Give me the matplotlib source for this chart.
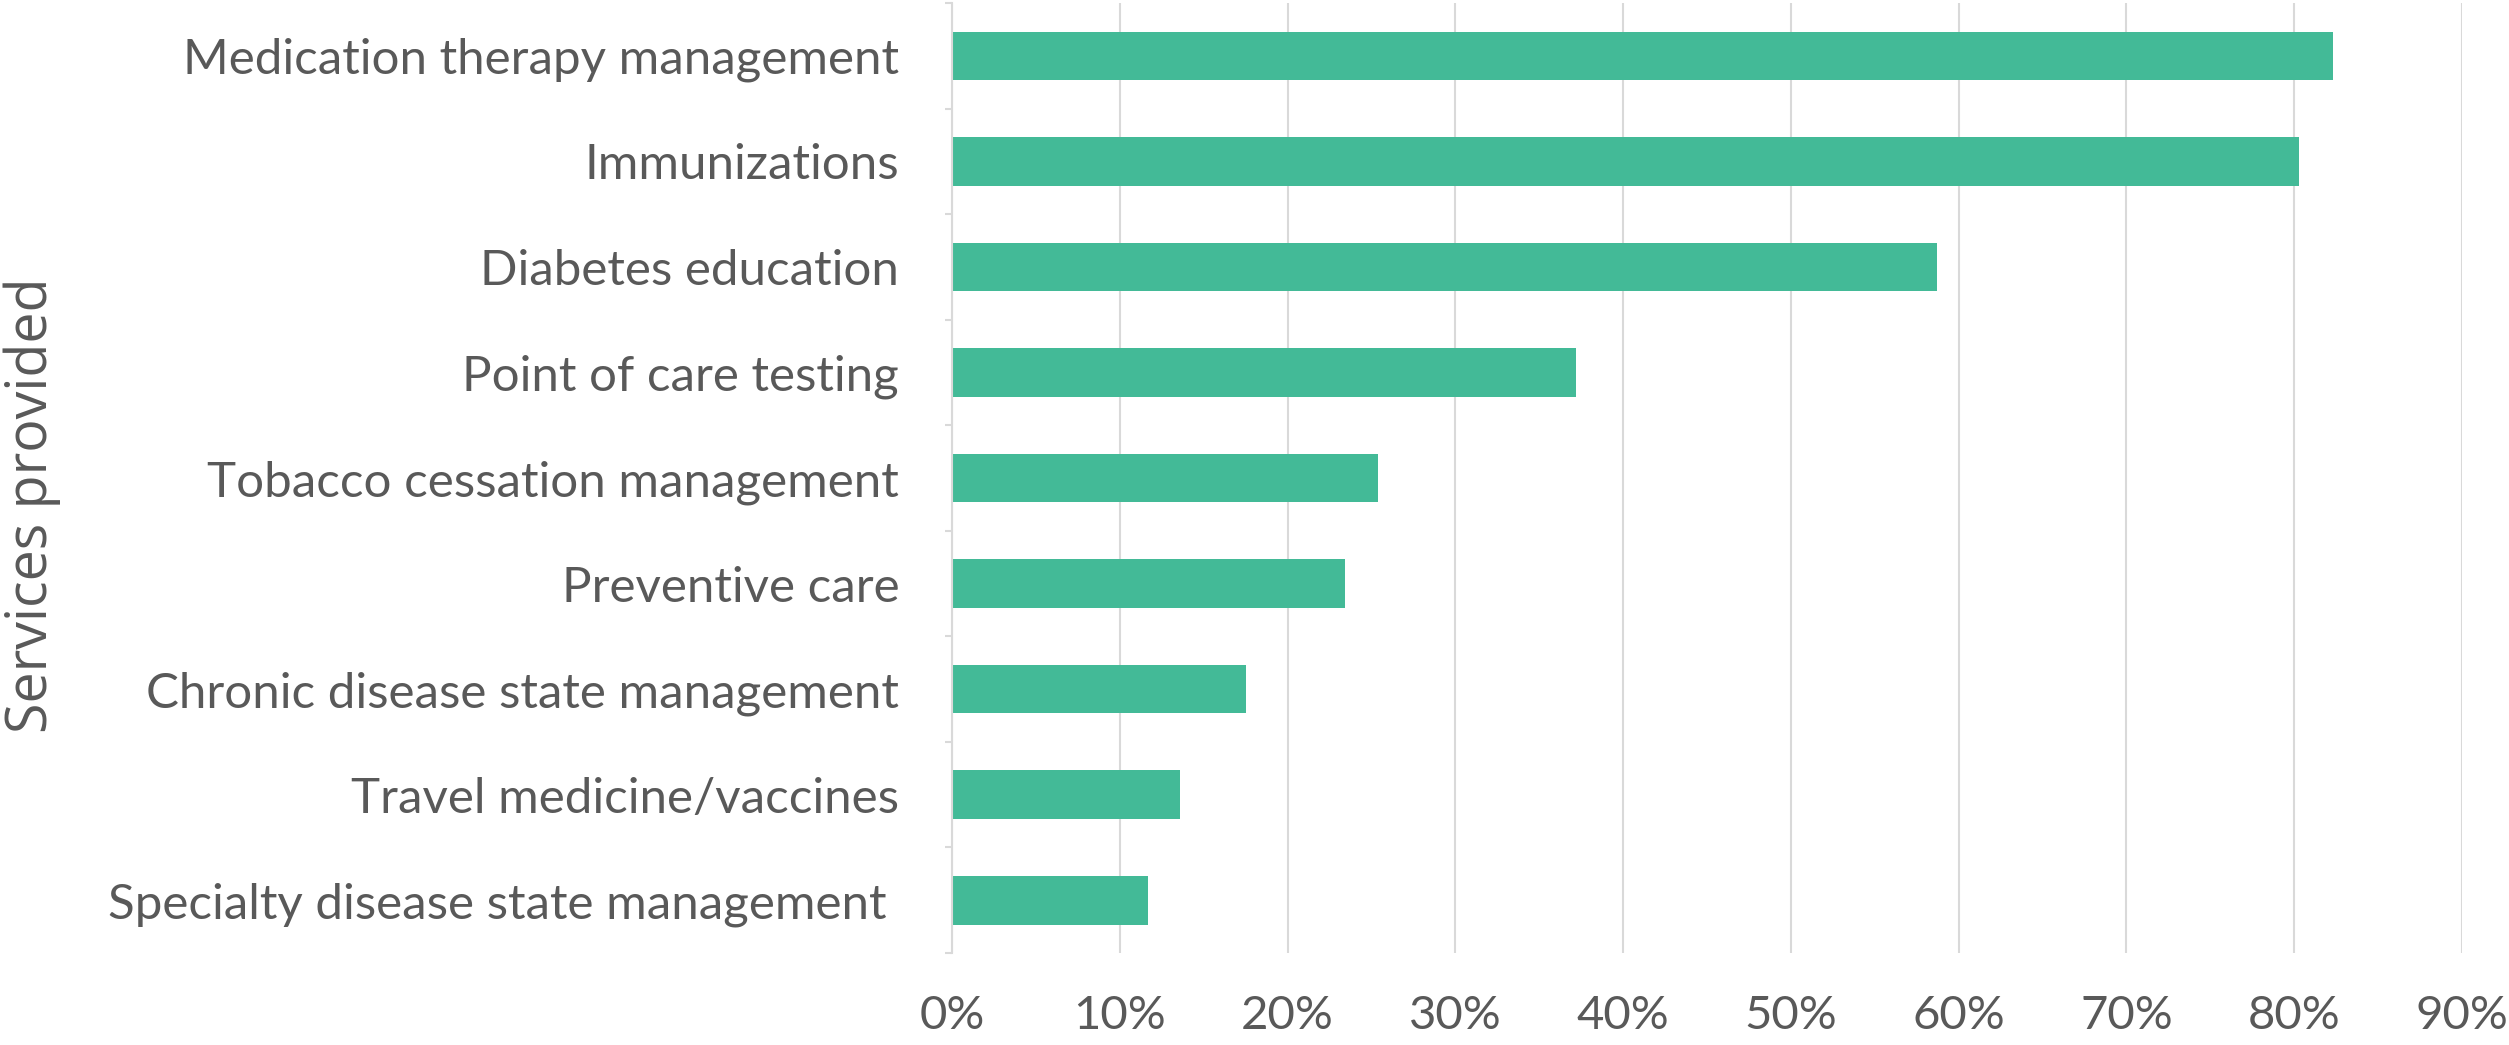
import numpy as np
import matplotlib
matplotlib.use("Agg")
import matplotlib.pyplot as plt
from matplotlib.ticker import FixedLocator, PercentFormatter

# services, top to bottom as in the chart
services = ["Medication therapy management",
            "Immunizations",
            "Diabetes education",
            "Point of care testing",
            "Tobacco cessation management",
            "Preventive care",
            "Chronic disease state management",
            "Travel medicine/vaccines",
            "Specialty disease state management "]
share = [82.3, 80.3, 58.7, 37.2, 25.4, 23.4, 17.5, 13.6, 11.7]   # percent
xticks = [0, 10, 20, 30, 40, 50, 60, 70, 80, 90]

txt = "#595959"
grid = "#D9D9D9"
green = "#43BA97"
W, H = 2509, 1045

plt.rcParams['font.family'] = ['Lato', 'DejaVu Sans']

fig = plt.figure(figsize=(W/100, H/100), dpi=100)
ax = fig.add_axes([952/W, 1-953/H, (2462-952)/W, 950/H])

ypos = np.arange(len(services))[::-1]
ax.barh(ypos, share, height=0.46, color=green, zorder=3)

ax.set_xlim(0, 90)
ax.set_ylim(-0.5, len(services)-0.5)
ax.xaxis.set_major_locator(FixedLocator(xticks))
ax.xaxis.set_major_formatter(PercentFormatter(decimals=0))
ax.grid(axis='x', color=grid, lw=1.5, zorder=0)
ax.set_yticks(ypos)
ax.set_yticklabels(services)
ax.set_yticks(np.arange(-0.5, len(services)), minor=True)

for s in ['top', 'right', 'bottom']:
    ax.spines[s].set_visible(False)
ax.spines['left'].set_color(grid)
ax.spines['left'].set_linewidth(1.5)
ax.spines['left'].set_zorder(4)

ax.tick_params(axis='y', which='major', length=0, pad=38, labelsize=35.5, labelcolor=txt)
ax.tick_params(axis='y', which='minor', length=5, width=1.5, color=grid)
ax.tick_params(axis='x', length=0, pad=30, labelsize=34, labelcolor=txt)

fig.text(32/W, 1-505/H, "Services provided", rotation=90, ha='center', va='center',
         fontsize=40, color=txt, family=['Open Sans', 'DejaVu Sans'])

fig.savefig("out.png", dpi=100)
